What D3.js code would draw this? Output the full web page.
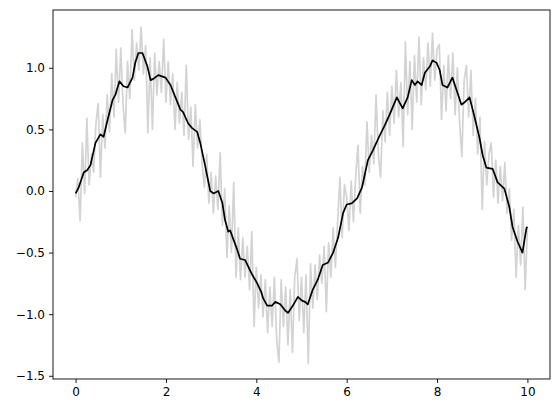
<!DOCTYPE html>
<meta charset="utf-8">
<style>
  body { margin: 0; background: #fff; }
  text { font-family: "DejaVu Sans", sans-serif; font-size: 12px; fill: #000; }
</style>
<script src="https://d3js.org/d3.v7.min.js"></script>
<svg width="559" height="413"></svg>
<script>
// noisy samples, step 0.05 from 0 to 10
const noisyY = [
  -0.05, 0.10, -0.24, 0.39, -0.02, 0.59, 0.05, 0.30, 0.15, 0.55,
  0.71, 0.11, 0.62, 0.35, 0.78, 0.48, 0.95, 0.60, 1.15, 0.72,
  1.16, 0.70, 0.47, 1.05, 0.75, 1.31, 0.90, 1.20, 0.98, 1.33,
  0.95, 1.18, 0.47, 1.08, 0.50, 1.12, 0.78, 1.05, 0.80, 1.23,
  0.72, 1.05, 0.70, 0.95, 0.50, 0.88, 0.55, 0.80, 0.45, 1.02,
  0.42, 0.68, 0.20, 0.70, 0.35, 0.58, 0.22, 0.03, 0.30, -0.10,
  0.15, -0.18, 0.12, -0.15, 0.31, -0.28, 0.02, -0.54, -0.12, -0.50,
  0.07, -0.70, -0.30, -0.72, -0.38, -0.70, -0.45, -0.80, -0.33, -1.10,
  -0.62, -0.95, -0.68, -1.02, -0.72, -1.15, -0.78, -1.10, -0.70, -1.20,
  -1.39, -0.72, -1.10, -0.78, -1.25, -0.80, -1.31, -0.70, -0.55, -1.05,
  -0.70, -1.15, -0.68, -1.40, -0.59, -0.95, -0.60, -0.88, -0.52, -0.75,
  -0.45, -0.98, -0.42, -0.70, -0.30, -0.62, -0.25, 0.11, -0.38, 0.05,
  -0.05, -0.32, 0.08, -0.25, 0.12, 0.37, -0.18, 0.20, 0.05, 0.56,
  0.15, 0.45, 0.22, 0.78, 0.30, 0.11, 0.65, 0.40, 0.80, 0.45,
  0.85, 0.55, 0.98, 0.60, 0.88, 0.36, 1.21, 0.62, 1.05, 0.50,
  1.10, 0.72, 1.25, 0.70, 1.08, 0.82, 1.20, 0.85, 1.28, 0.90,
  1.15, 1.19, 0.58, 1.02, 0.65, 1.10, 0.75, 1.12, 0.62, 1.00,
  0.55, 0.28, 0.90, 1.02, 0.60, 0.98, 0.45, 0.75, 0.30, 0.60,
  -0.15, 0.40, 0.05, 0.30, 0.39, -0.05, 0.25, -0.10, 0.20, -0.08,
  0.23, -0.18, 0.02, -0.40, -0.15, -0.70, -0.28, -0.60, -0.13, -0.80,
  -0.30
];
const noisyX = noisyY.map((d, i) => i * 0.05);

// smoothed line, traced points
const smoothX = [0.00, 0.07, 0.18, 0.26, 0.33, 0.44, 0.55, 0.62, 0.71, 0.82, 0.88, 0.97,
  1.06, 1.15, 1.26, 1.32, 1.39, 1.48, 1.59, 1.66, 1.72, 1.83, 1.99, 2.10, 2.21, 2.32,
  2.38, 2.49, 2.58, 2.69, 2.76, 2.87, 2.98, 3.05, 3.16, 3.25, 3.31, 3.38, 3.42, 3.58,
  3.64, 3.75, 3.91, 4.02, 4.11, 4.15, 4.24, 4.35, 4.42, 4.53, 4.64, 4.70, 4.81, 4.92,
  5.01, 5.08, 5.14, 5.25, 5.36, 5.47, 5.59, 5.70, 5.81, 5.92, 6.00, 6.11, 6.23, 6.34,
  6.47, 6.58, 6.73, 6.84, 6.95, 7.11, 7.24, 7.35, 7.44, 7.51, 7.57, 7.66, 7.73, 7.84,
  7.90, 7.99, 8.06, 8.12, 8.23, 8.34, 8.45, 8.54, 8.61, 8.72, 8.83, 8.94, 9.01, 9.09,
  9.23, 9.34, 9.49, 9.60, 9.67, 9.78, 9.89, 9.98, 10.00];
const smoothY = [-0.02, 0.03, 0.15, 0.17, 0.21, 0.39, 0.46, 0.44, 0.58, 0.74, 0.78, 0.89,
  0.85, 0.84, 0.92, 1.04, 1.12, 1.12, 1.01, 0.90, 0.91, 0.94, 0.92, 0.86, 0.76, 0.66,
  0.64, 0.55, 0.51, 0.48, 0.39, 0.20, 0.00, -0.02, 0.00, -0.10, -0.24, -0.33, -0.32, -0.48,
  -0.55, -0.56, -0.68, -0.75, -0.82, -0.87, -0.93, -0.93, -0.90, -0.92, -0.97, -0.99, -0.93, -0.86,
  -0.89, -0.90, -0.92, -0.80, -0.72, -0.60, -0.58, -0.50, -0.38, -0.18, -0.11, -0.10, -0.06, 0.03,
  0.25, 0.33, 0.45, 0.53, 0.62, 0.76, 0.67, 0.76, 0.90, 0.86, 0.89, 0.86, 0.96, 1.01,
  1.06, 1.04, 0.98, 0.86, 0.84, 0.92, 0.80, 0.70, 0.72, 0.76, 0.60, 0.43, 0.29, 0.19,
  0.18, 0.07, 0.02, -0.13, -0.29, -0.41, -0.50, -0.30, -0.29];

const xTicks = [0, 2, 4, 6, 8, 10];
const yTicks = [-1.5, -1.0, -0.5, 0.0, 0.5, 1.0];

const svg = d3.select('svg');
const mLeft = 53, mRight = 550, mTop = 10, mBottom = 379;

const x = d3.scaleLinear().domain([-0.5, 10.5]).range([mLeft, mRight]);
const y = d3.scaleLinear().domain([-1.526, 1.469]).range([mBottom, mTop]);

const line = d3.line().x(d => x(d[0])).y(d => y(d[1]));

svg.append('path')
  .attr('d', line(d3.zip(noisyX, noisyY)))
  .attr('fill', 'none')
  .attr('stroke', '#d3d3d3')
  .attr('stroke-width', 1.7)
  .attr('stroke-linejoin', 'round');

svg.append('path')
  .attr('d', line(d3.zip(smoothX, smoothY)))
  .attr('fill', 'none')
  .attr('stroke', '#000')
  .attr('stroke-width', 1.7)
  .attr('stroke-linejoin', 'round');

const fmt = v => v.toFixed(1).replace('-', '\u2212');

const xAxis = svg.append('g')
  .attr('transform', `translate(0,${mBottom})`)
  .call(d3.axisBottom(x).tickValues(xTicks).tickSize(4).tickPadding(4).tickFormat(d3.format('d')));
const yAxis = svg.append('g')
  .attr('transform', `translate(${mLeft},0)`)
  .call(d3.axisLeft(y).tickValues(yTicks).tickSize(4).tickPadding(4).tickFormat(fmt));

[xAxis, yAxis].forEach(g => {
  g.select('.domain').remove();
  g.selectAll('text').attr('font-family', '"DejaVu Sans", sans-serif').attr('font-size', 12).attr('fill', '#000');
  g.selectAll('line').attr('stroke', '#000').attr('stroke-width', 0.9);
});

svg.append('rect')
  .attr('x', mLeft).attr('y', mTop)
  .attr('width', mRight - mLeft).attr('height', mBottom - mTop)
  .attr('fill', 'none')
  .attr('stroke', '#000')
  .attr('stroke-width', 0.9);
</script>
